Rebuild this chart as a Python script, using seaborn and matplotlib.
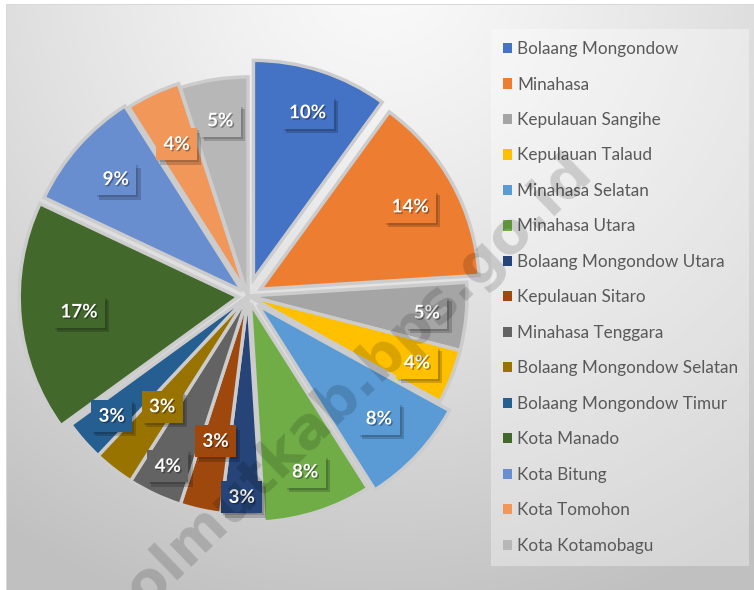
import numpy as np
import matplotlib
matplotlib.use("Agg")
import matplotlib.pyplot as plt
import matplotlib.patheffects as pe
from matplotlib.patches import Patch
import seaborn as sns

# ---- data ----
regions = ["Bolaang Mongondow", "Minahasa", "Kepulauan Sangihe", "Kepulauan Talaud",
           "Minahasa Selatan", "Minahasa Utara", "Bolaang Mongondow Utara",
           "Kepulauan Sitaro", "Minahasa Tenggara", "Bolaang Mongondow Selatan",
           "Bolaang Mongondow Timur", "Kota Manado", "Kota Bitung", "Kota Tomohon",
           "Kota Kotamobagu"]
shares = [10, 14, 5, 4, 8, 8, 3, 3, 4, 3, 3, 17, 9, 4, 5]

# ---- style ----
colors = sns.color_palette(["#4472C4", "#ED7D31", "#A5A5A5", "#FFC000", "#5B9BD5",
                            "#70AD47", "#264478", "#9E480E", "#636363", "#997300",
                            "#255E91", "#43682B", "#698ED0", "#F1975A", "#B7B7B7"])
explode = [0.08, 0.065, 0, 0, 0.06, 0.035, 0, 0, 0, 0, 0, 0.045, 0.035, 0.02, 0]
label_r = [0.80, 0.78, 0.82, 0.83, 0.76, 0.81, 0.92, 0.68, 0.86, 0.64, 0.83, 0.73, 0.77, 0.745, 0.81]

sns.set_theme(style="white")
plt.rcParams["font.family"] = ["Lato", "DejaVu Sans"]

W, H, DPI = 754, 590, 100
fig = plt.figure(figsize=(W / DPI, H / DPI), dpi=DPI)

# background gradient
bg = fig.add_axes([0, 0, 1, 1])
yy, xx = np.mgrid[0:H, 0:W]
d = np.hypot(xx - 380, yy + 30)
g = 250 - 50 * (d / 600) ** 1.25
g = np.clip(g, 192, 252)
img = np.dstack([g, g, g]) / 255.0
img[:4, :, :] = 1.0
img[:, :6, :] = 1.0
img[4, 6:, :] = 0.85
img[4:, 6, :] = 0.85
bg.imshow(img, extent=[0, W, H, 0], aspect="auto", interpolation="bilinear")
bg.set_xlim(0, W)
bg.set_ylim(H, 0)
bg.axis("off")

# pie axes
R = 219.0
cx, cy = 248.0, 296.0
ax = fig.add_axes([0, 0, 1, 1])
ax.patch.set_alpha(0)
wedges, texts, autotexts = ax.pie(
    shares, colors=colors, explode=explode, startangle=90, counterclock=False,
    autopct="%1.0f%%", pctdistance=0.8, radius=1.0,
    wedgeprops=dict(edgecolor="#cccccc", linewidth=2.5),
    textprops=dict(color="white", fontsize=13.5, fontweight="bold"))
ax.set_xlim(-cx / R, (W - cx) / R)
ax.set_ylim(-(H - cy) / R, cy / R)
ax.set_aspect("equal")
ax.axis("off")

for w, t, lr, col in zip(wedges, autotexts, label_r, colors):
    c = np.array(w.center)
    p = np.array(t.get_position())
    t.set_position(c + (p - c) * lr / 0.8)
    t.set_bbox(dict(boxstyle="square,pad=0.4", fc=col, ec="none"))
    t.get_bbox_patch().set_path_effects(
        [pe.SimplePatchShadow(offset=(3, -3), shadow_rgbFace="black", alpha=0.18),
         pe.SimplePatchShadow(offset=(1.5, -1.5), shadow_rgbFace="black", alpha=0.15),
         pe.Normal()])
    t.set_path_effects([pe.withSimplePatchShadow(offset=(1, -1), shadow_rgbFace="black", alpha=0.35)])

# legend
handles = [Patch(facecolor=c, edgecolor="none") for c in colors]
leg = fig.legend(handles, regions, loc="upper left",
                 bbox_to_anchor=(491 / W, 1 - 35 / H, 258 / W, 0.01), mode="expand",
                 fontsize=12.3, frameon=True, fancybox=False, facecolor="white",
                 framealpha=0.35, edgecolor="none", handlelength=0.55, handleheight=0.55,
                 handletextpad=0.3, labelspacing=1.14, borderpad=0.7, borderaxespad=0)
for txt in leg.get_texts():
    txt.set_color("#595959")

# watermark
fig.text(344 / W, 1 - 393 / H, "bolmutkab.bps.go.id", rotation=44, ha="center", va="center",
         fontsize=41, fontweight="bold", color="black", alpha=0.15, family="DejaVu Sans",
         zorder=10)

fig.savefig("out.png", dpi=DPI)
